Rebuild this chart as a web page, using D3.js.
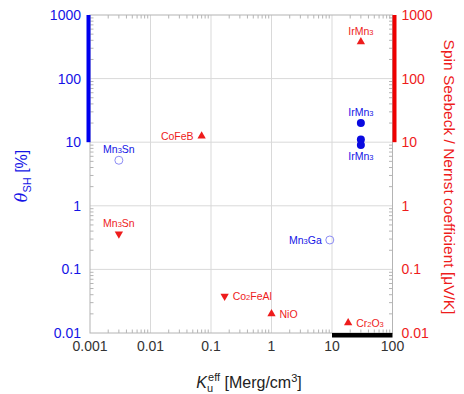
<!DOCTYPE html>
<html><head><meta charset="utf-8">
<script src="https://cdn.jsdelivr.net/npm/d3@7"></script>
<style>body{margin:0;background:#fff;font-family:"Liberation Sans",Arial,sans-serif;}</style>
</head><body><svg id="c" width="464" height="394"></svg>
<script>
// ---- data ----
const xTicks = [0.001, 0.01, 0.1, 1, 10, 100];
const xTickLabels = ["0.001", "0.01", "0.1", "1", "10", "100"];
const yTicks = [0.01, 0.1, 1, 10, 100, 1000];
const yTickLabels = ["0.01", "0.1", "1", "10", "100", "1000"];

// spin Hall angle (left axis, %)
const blueFilledNames = ["IrMn_3", "IrMn_3", "IrMn_3"];
const blueFilledX = [30, 30, 30];
const blueFilledY = [20, 11, 9];
const blueFilledLabelPos = ["above", "none", "below"];

const blueOpenNames = ["Mn_3Sn", "Mn_3Ga"];
const blueOpenX = [0.003, 9.2];
const blueOpenY = [5.2, 0.29];
const blueOpenLabelPos = ["above", "left"];

// spin Seebeck / Nernst (right axis, uV/K)
const redUpNames = ["IrMn_3", "CoFeB", "NiO", "Cr_2O_3"];
const redUpX = [30, 0.07, 1.0, 18.5];
const redUpY = [380, 12.5, 0.02, 0.0145];
const redUpLabelPos = ["above", "left", "right", "right"];

const redDownNames = ["Mn_3Sn", "Co_2FeAl"];
const redDownX = [0.003, 0.168];
const redDownY = [0.36, 0.038];
const redDownLabelPos = ["above", "right"];

// highlighted ranges
const blueRange = [10, 1000];
const redRange = [10, 1000];
const blackRange = [10, 100];

// ---- layout ----
const svg = d3.select("#c");
const L = 90, R = 392.5, T = 15, B = 333;
const x = d3.scaleLog().domain([0.001, 100]).range([L, R]);
const y = d3.scaleLog().domain([0.01, 1000]).range([B, T]);
const BLUE = "#1414e6", RED = "#ee1c1c", GRID = "#d9d9d9", FRAME = "#b4b4b4";

// grid
const g = svg.append("g");
g.selectAll(".gx").data(xTicks.slice(1, -1)).join("line")
  .attr("x1", d => x(d)).attr("x2", d => x(d)).attr("y1", T).attr("y2", B)
  .attr("stroke", GRID).attr("stroke-width", 1);
g.selectAll(".gy").data(yTicks.slice(1, -1)).join("line")
  .attr("y1", d => y(d)).attr("y2", d => y(d)).attr("x1", L).attr("x2", R)
  .attr("stroke", GRID).attr("stroke-width", 1);

// minor ticks
function minors(dom) {
  const out = [];
  for (let e = Math.log10(dom[0]); e < Math.log10(dom[1]); e++)
    for (let k = 2; k <= 9; k++) out.push(k * Math.pow(10, e));
  return out;
}
const mx = minors(x.domain()), my = minors(y.domain());
const tl = 3.5;
g.selectAll(".mxb").data(mx).join("line").attr("x1", d => x(d)).attr("x2", d => x(d))
  .attr("y1", B).attr("y2", B - tl).attr("stroke", FRAME);
g.selectAll(".mxt").data(mx).join("line").attr("x1", d => x(d)).attr("x2", d => x(d))
  .attr("y1", T).attr("y2", T + tl).attr("stroke", FRAME);
g.selectAll(".myl").data(my).join("line").attr("y1", d => y(d)).attr("y2", d => y(d))
  .attr("x1", L).attr("x2", L + tl).attr("stroke", FRAME);
g.selectAll(".myr").data(my).join("line").attr("y1", d => y(d)).attr("y2", d => y(d))
  .attr("x1", R).attr("x2", R - tl).attr("stroke", FRAME);
// frame
g.append("rect").attr("x", L).attr("y", T).attr("width", R - L).attr("height", B - T)
  .attr("fill", "none").attr("stroke", FRAME).attr("stroke-width", 1);

// range bars
svg.append("rect").attr("x", L - 3.5).attr("width", 4)
  .attr("y", y(blueRange[1])).attr("height", y(blueRange[0]) - y(blueRange[1])).attr("fill", "#0000ee");
svg.append("rect").attr("x", R).attr("width", 4)
  .attr("y", y(redRange[1])).attr("height", y(redRange[0]) - y(redRange[1])).attr("fill", "#ee0000");
svg.append("rect").attr("x", x(blackRange[0])).attr("width", x(blackRange[1]) - x(blackRange[0]))
  .attr("y", B).attr("height", 4.5).attr("fill", "#000");

// tick labels
svg.selectAll(".tl").data(yTicks).join("text")
  .attr("x", L - 9).attr("y", d => y(d)).attr("dy", "0.35em").attr("text-anchor", "end")
  .attr("font-size", 14).attr("fill", BLUE).text((d, i) => yTickLabels[i]);
svg.selectAll(".tr").data(yTicks).join("text")
  .attr("x", R + 9).attr("y", d => y(d)).attr("dy", "0.35em").attr("text-anchor", "start")
  .attr("font-size", 14).attr("fill", RED).text((d, i) => yTickLabels[i]);
svg.selectAll(".tb").data(xTicks).join("text")
  .attr("x", d => x(d)).attr("y", B + 18).attr("text-anchor", "middle")
  .attr("font-size", 14).attr("fill", "#333").text((d, i) => xTickLabels[i]);

// axis titles
const lt = svg.append("text").attr("transform", `translate(27,${(T + B) / 2 + 2}) rotate(-90)`)
  .attr("text-anchor", "middle").attr("fill", BLUE).attr("font-size", 16);
lt.append("tspan").attr("font-style", "italic").attr("font-family", "'DejaVu Serif',serif").text("θ");
lt.append("tspan").attr("font-size", 11).attr("dy", 4).text("SH");
lt.append("tspan").attr("dy", -4).text(" [%]");

svg.append("text").attr("transform", `translate(444,${(T + B) / 2 + 3}) rotate(90)`)
  .attr("text-anchor", "middle").attr("fill", RED).attr("font-size", 15.5)
  .text("Spin Seebeck / Nernst coefficient [μV/K]");

const bt = svg.append("text").attr("x", 249).attr("y", 388).attr("text-anchor", "middle")
  .attr("fill", "#222").attr("font-size", 16);
bt.append("tspan").attr("font-style", "italic").text("K");
bt.append("tspan").attr("font-size", 11).attr("dy", 4).text("u");
bt.append("tspan").attr("font-size", 11).attr("dy", -11).attr("dx", -5).text("eff");
bt.append("tspan").attr("dy", 7).text(" [Merg/cm");
bt.append("tspan").attr("font-size", 11).attr("dy", -6).text("3");
bt.append("tspan").attr("dy", 6).text("]");

// label drawing with subscripts
function label(px, py, name, pos, color) {
  if (pos === "none") return;
  let tx = px, ty = py, anchor = "middle";
  if (pos === "above") { ty = py - 7; }
  if (pos === "below") { ty = py + 15; }
  if (pos === "left") { tx = px - 8; ty = py + 4; anchor = "end"; }
  if (pos === "right") { tx = px + 8; ty = py + 4; anchor = "start"; }
  const t = svg.append("text").attr("x", tx).attr("y", ty).attr("text-anchor", anchor)
    .attr("fill", color).attr("font-size", 10.5);
  const parts = name.split(/(_\d)/);
  parts.forEach(p => {
    if (!p) return;
    if (p[0] === "_") t.append("tspan").attr("font-size", 7.5).text(p.slice(1));
    else t.append("tspan").text(p);
  });
}

const tri = d3.symbol().type(d3.symbolTriangle).size(30);
// blue filled circles
blueFilledX.forEach((v, i) => {
  svg.append("circle").attr("cx", x(v)).attr("cy", y(blueFilledY[i])).attr("r", 4).attr("fill", "#0a0ae0");
  label(x(v), y(blueFilledY[i]), blueFilledNames[i], blueFilledLabelPos[i], BLUE);
});
// blue open circles
blueOpenX.forEach((v, i) => {
  svg.append("circle").attr("cx", x(v)).attr("cy", y(blueOpenY[i])).attr("r", 4)
    .attr("fill", "none").attr("stroke", "#8c8cf5").attr("stroke-width", 1);
  label(x(v), y(blueOpenY[i]), blueOpenNames[i], blueOpenLabelPos[i], BLUE);
});
// red up triangles
redUpX.forEach((v, i) => {
  svg.append("path").attr("d", tri).attr("transform", `translate(${x(v)},${y(redUpY[i])})`).attr("fill", RED);
  label(x(v), y(redUpY[i]), redUpNames[i], redUpLabelPos[i], RED);
});
// red down triangles
redDownX.forEach((v, i) => {
  svg.append("path").attr("d", tri).attr("transform", `translate(${x(v)},${y(redDownY[i])}) rotate(180)`).attr("fill", RED);
  label(x(v), y(redDownY[i]), redDownNames[i], redDownLabelPos[i], RED);
});
</script></body></html>
